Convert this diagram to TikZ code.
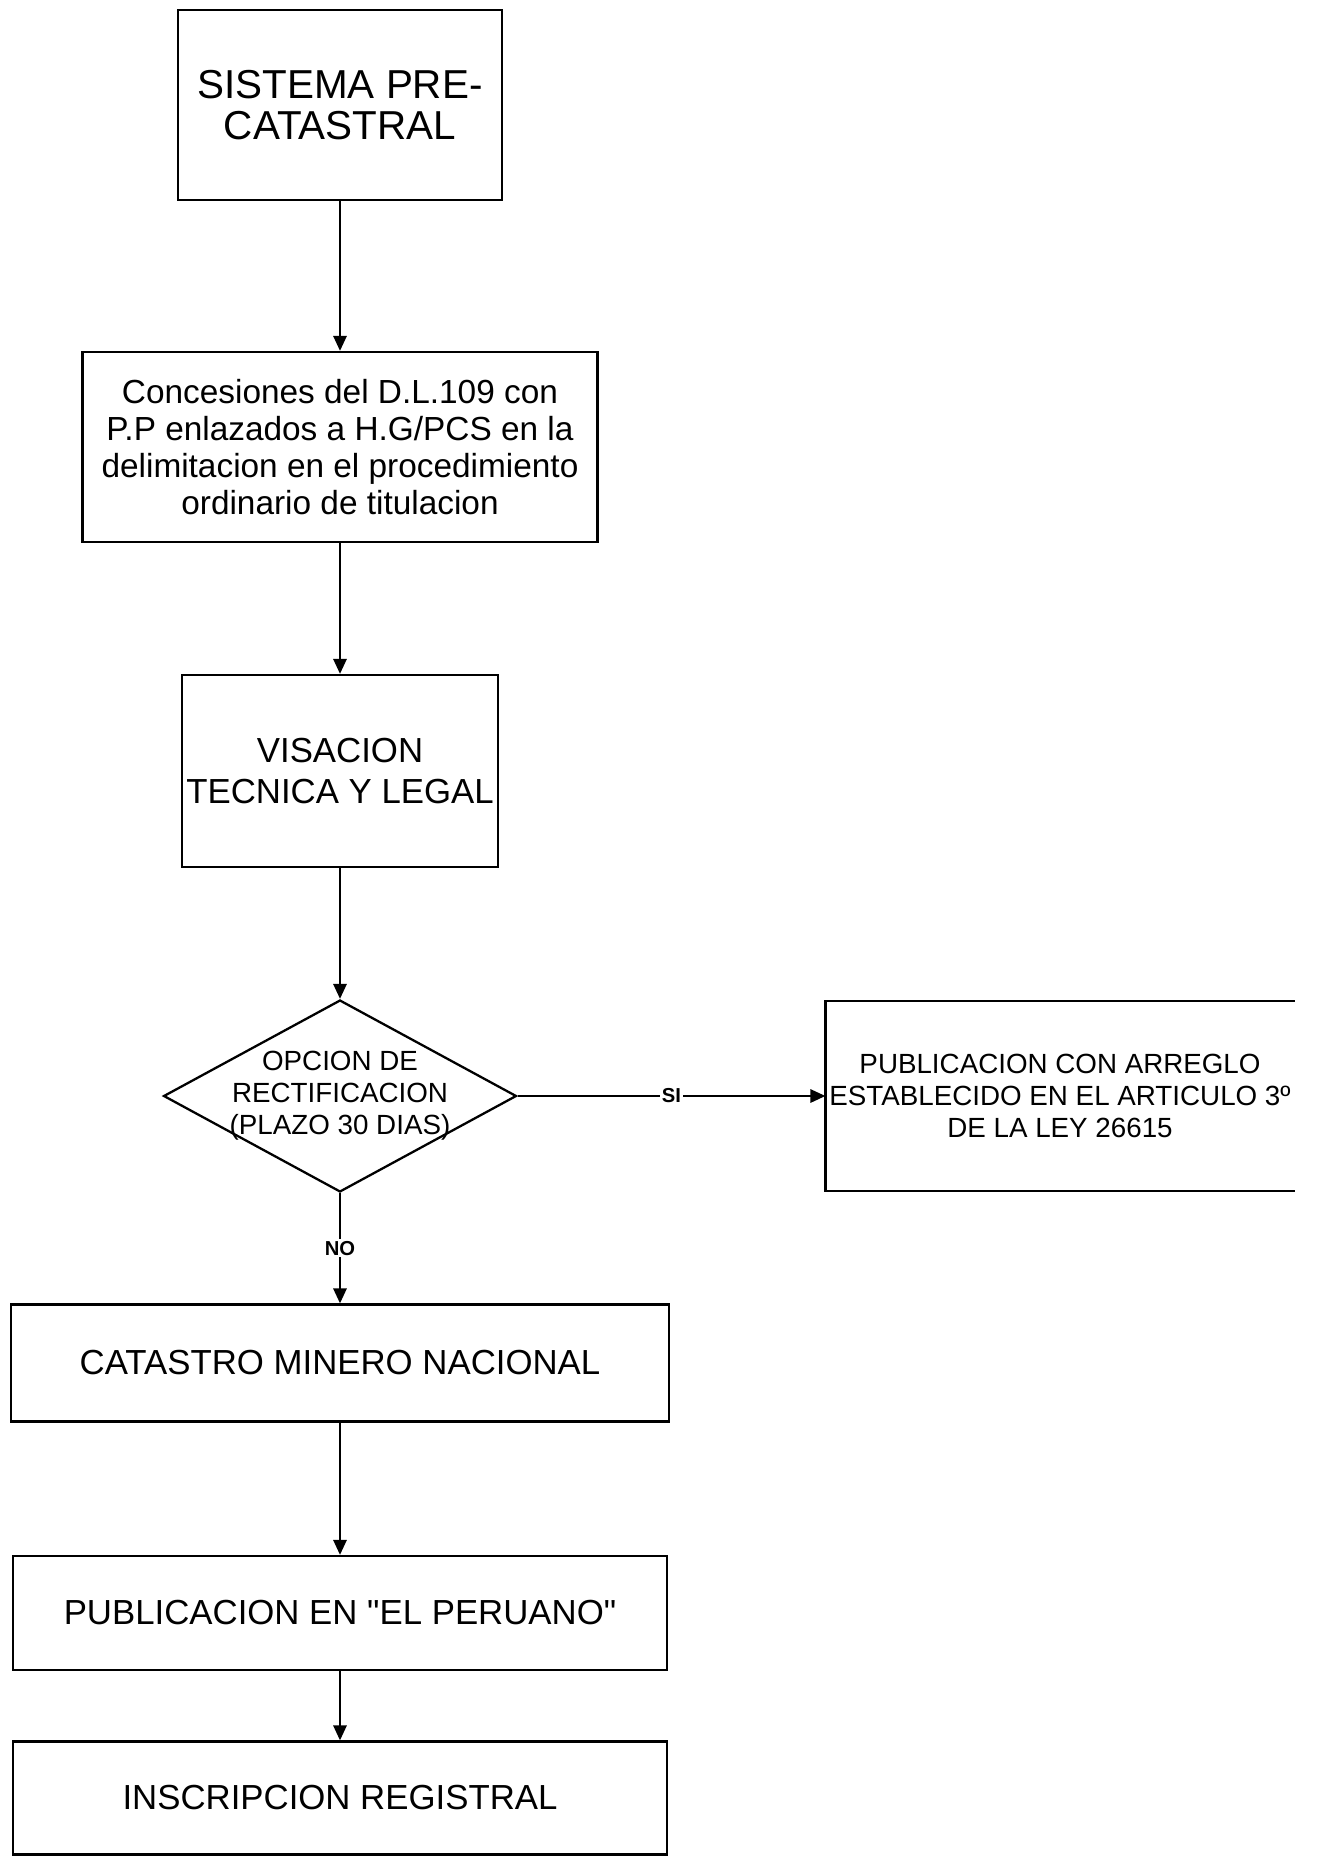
\documentclass[tikz,border=0pt]{standalone}
\usepackage{fontspec}
\setmainfont[Ligatures=TeXOff]{Liberation Sans}
\usetikzlibrary{shapes.geometric,arrows.meta}

\begin{document}
\begin{tikzpicture}%
  [x=0.02cm,y=-0.02cm,line width=1.3pt,
   >={Triangle[length=8.5pt,width=7.5pt]}]
  \tikzstyle{box node}=[rectangle,draw,inner sep=0,align=center,
    font=\fontsize{19.8}{23.3}\selectfont]
  \tikzstyle{dia node}=[diamond,draw,inner sep=0]
  \tikzstyle{small text}=[align=center,font=\fontsize{15.8}{18.2}\selectfont]
  \tikzstyle{tag}=[fill=white,inner sep=1pt,
    font=\fontsize{11.5}{12}\selectfont\bfseries]
  \useasboundingbox (0,0) rectangle (1326,1858);
  % main column
  \node(0)[box node,minimum width=6.48cm,minimum height=3.8cm,
    font=\fontsize{23}{23.5}\selectfont] at (340,105)
    {SISTEMA PRE-\\CATASTRAL};
  \node(1)[box node,minimum width=10.3cm,minimum height=3.8cm,
    font=\fontsize{19}{21}\selectfont] at (340,447)
    {Concesiones del D.L.109 con\\P.P enlazados a H.G/PCS en la\\
     delimitacion en el procedimiento\\ordinario de titulacion};
  \node(2)[box node,minimum width=6.32cm,minimum height=3.84cm] at (340,771)
    {VISACION\\TECNICA Y LEGAL};
  \node(d)[dia node,minimum width=7.06cm,minimum height=3.84cm] at (340,1096) {};
  \node(dt)[small text] at (d) {OPCION DE\\RECTIFICACION\\(PLAZO 30 DIAS)};
  \node(3)[box node,minimum width=13.16cm,minimum height=2.34cm] at (340,1363)
    {CATASTRO MINERO NACIONAL};
  \node(4)[box node,minimum width=13.08cm,minimum height=2.28cm] at (340,1613)
    {PUBLICACION EN "EL PERUANO"};
  \node(5)[box node,minimum width=13.08cm,minimum height=2.26cm] at (340,1798)
    {INSCRIPCION REGISTRAL};
  % side branch, box open on the right
  \node(s)[small text,inner sep=0,minimum width=9.34cm,minimum height=3.76cm]
    at (1060,1096)
    {PUBLICACION CON ARREGLO\\ESTABLECIDO EN EL ARTICULO 3º\\DE LA LEY 26615};
  \draw (s.north east) -- (s.north west) -- (s.south west) -- (s.south east);
  % connectors
  \draw[->] (0) -- (1);
  \draw[->] (1) -- (2);
  \draw[->] (2) -- (d);
  \draw[->] (d) -- node[tag]{NO} (3);
  \draw[->] (d) -- node[tag]{SI} (s);
  \draw[->] (3) -- (4);
  \draw[->] (4) -- (5);
\end{tikzpicture}
\end{document}
